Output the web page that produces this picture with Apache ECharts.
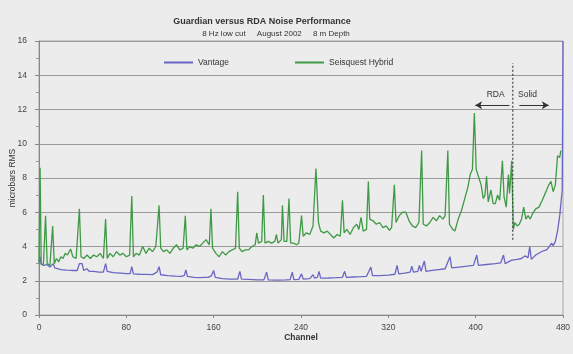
<!DOCTYPE html>
<html>
<head>
<meta charset="utf-8">
<script src="https://cdn.jsdelivr.net/npm/echarts@6/dist/echarts.min.js"></script>
<style>
html,body{margin:0;padding:0;background:#ececec;}
#chart{width:573px;height:354px;}
</style>
</head>
<body>
<div id="chart"></div>
<script>
const titleText = "Guardian versus RDA Noise Performance";
const subtitleText = "8 Hz low cut     August 2002     8 m Depth";
const seriesNames = ["Vantage", "Seisquest Hybrid"];
const xTicks = [0, 80, 160, 240, 320, 400, 480];
const yTicks = [0, 2, 4, 6, 8, 10, 12, 14, 16];

const vantageCh = [0,1,2,5,7,10,13,14.5,20,25,30,35,37,39.5,41,44,46,50,55,59,61,62.5,68,75,80,83.5,85,86.5,92,98,104,108,110,111.5,118,125,130,133,134.5,136,142,148,152,155,158,160,161.5,168,175,182,184,185.5,192,200,206,208.5,210,218,226,230,232,233.5,238,240.5,242,248,251,252.5,255,256.5,258,265,272,278,280,281.5,288,295,300,304,305.5,312,320,326,328,329.5,335,340,341.5,343,347,348.5,350,353,354.5,360,366,372,376.5,378,385,392,398,401,402.5,410,418,423,425.5,427,433,438,442,445,448,449.5,451,455,459,462,465,467.5,469.5,471,473,475,477,478.5,479.3,480];
const vantageVal = [3.0,3.4,2.95,2.9,2.95,2.8,3.0,2.75,2.65,2.62,2.6,2.6,3.0,3.0,2.6,2.7,2.55,2.55,2.5,2.5,3.0,2.55,2.48,2.45,2.42,2.42,2.82,2.4,2.38,2.37,2.36,2.5,2.82,2.35,2.3,2.27,2.25,2.3,2.63,2.25,2.2,2.18,2.2,2.2,2.3,2.6,2.2,2.12,2.1,2.1,2.55,2.1,2.08,2.05,2.05,2.5,2.05,2.04,2.05,2.06,2.5,2.06,2.08,2.4,2.1,2.12,2.35,2.15,2.2,2.55,2.15,2.16,2.18,2.2,2.55,2.2,2.22,2.24,2.26,2.8,2.3,2.3,2.33,2.38,2.9,2.4,2.45,2.5,2.85,2.5,2.55,2.9,2.55,3.15,2.55,2.6,2.65,2.7,3.4,2.75,2.8,2.85,2.9,3.5,2.9,2.95,3.0,3.05,3.5,3.0,3.2,3.25,3.3,3.45,3.35,4.0,3.25,3.5,3.65,3.75,3.8,4.0,4.2,4.05,4.3,4.9,5.8,6.8,7.3,16];

const hybridCh = [0,1,2,4,6,7.5,10,12.5,14,16,18,20,22,24,26,29,31,34,37,38.5,41,44,47,50,53,56,59,61,62.5,65,68,71,74,77,80,83,85,86.5,89,92,95,98,101,104,107,110,111.5,114,117,120,123,126,129,132,134,135.5,138,141,144,147,150,153,156,157.5,159,162,165,168,171,174,177,180,182,183.5,186,189,192,195,198,199.5,201,204,205.5,207,210,213,216,217.5,219,222,223,224.5,227,229,230.5,233,236,238,240.5,242,245,248,251,253.7,256,258,261,264,267,270,273,276,278,279.5,282,285,288,291,293,295,297,300,301.7,303,306,309,312,315,318,321,323,325.5,327,330,333,336,339,342,345,348,350.5,352,355,358,361,364,367,370,372,374.5,376,379,381,384,387,390,393,395,397,398.8,400.5,403,405,407,408.5,410,411.5,414,416,418,420,422,424.5,426,428,430,431,432,433,434.5,436,438,440,442,444,446,448,450,452,455,458,461,463,465,467,469,471,473,475,477,478];
const hybridVal = [3.1,8.6,3.0,2.9,5.8,3.0,2.9,5.2,3.0,3.3,3.1,3.4,3.3,3.6,3.5,3.85,3.4,3.3,6.2,3.4,3.3,3.5,3.3,3.5,3.4,3.6,3.3,5.6,3.3,3.6,3.4,3.7,3.5,3.6,3.4,3.5,6.95,3.4,3.6,3.5,4.0,3.6,3.9,3.7,4.0,6.4,3.9,3.7,3.8,3.6,3.9,4.1,3.8,3.9,5.8,3.8,4.0,3.9,4.1,4.0,4.2,4.4,4.1,6.2,3.9,3.6,3.4,3.7,3.5,3.7,3.8,3.9,7.2,3.9,3.7,3.8,3.8,4.0,4.1,4.8,4.2,4.3,7.0,4.2,4.3,4.2,4.3,4.7,4.2,4.4,6.4,4.3,4.3,6.8,4.2,4.2,4.1,4.2,5.8,4.6,4.8,4.7,5.2,8.55,5.4,4.9,4.8,4.9,4.7,4.5,4.7,4.6,6.7,4.8,5.0,4.7,5.1,5.3,5.0,5.7,4.9,5.0,7.8,5.6,5.5,5.3,5.4,5.1,5.2,4.95,5.1,7.6,5.4,5.8,6.0,6.0,5.5,5.2,5.1,5.4,9.6,5.3,5.2,5.4,5.7,5.5,5.8,5.6,5.8,9.6,5.3,5.0,4.9,5.6,6.1,6.8,7.5,8.2,8.5,11.8,8.5,8.0,7.6,6.8,7.0,8.1,6.6,7.3,6.5,6.5,7.0,6.7,9.0,6.9,6.3,8.2,7.1,8.0,9.0,5.0,5.4,5.2,5.3,5.6,6.3,5.6,5.8,5.6,5.9,6.2,6.3,6.7,7.0,7.3,7.6,7.8,7.2,7.6,9.3,9.2,9.6];

const dividerCh = [434, 434];
const dividerVal = [4.4, 14.7];
const arrowLeft = [[431, 12.25], [399.5, 12.25]];
const arrowRight = [[440, 12.25], [467, 12.25]];
const regionLabels = ["RDA", "Solid"];
const regionLabelPos = [[418.3, 12.88], [447.5, 12.88]];

const toPairs = (xs, ys) => xs.map((x, i) => [x, ys[i]]);
const FONT = "Liberation Sans, Arial, sans-serif";
const chart = echarts.init(document.getElementById('chart'));

chart.setOption({
  backgroundColor: '#ececec',
  animation: false,
  title: [
    { text: titleText, left: 257, top: 12, textAlign: 'center',
      textStyle: { fontFamily: FONT, fontSize: 9, fontWeight: 'bold', color: '#333' } },
    { text: subtitleText, left: 271, top: 25, textAlign: 'center',
      textStyle: { fontFamily: FONT, fontSize: 8, fontWeight: 'normal', color: '#333' } }
  ],
  legend: [
    { data: [seriesNames[0]], left: 159, top: 53, itemWidth: 29, itemHeight: 2, icon: 'rect',
      textStyle: { fontFamily: FONT, fontSize: 8.5, color: '#333' } },
    { data: [seriesNames[1]], left: 290, top: 53, itemWidth: 29, itemHeight: 2, icon: 'rect',
      textStyle: { fontFamily: FONT, fontSize: 8.5, color: '#333' } }
  ],
  grid: { left: 39, right: 10, top: 41, bottom: 39, outerBoundsMode: 'none', containLabel: false,
          show: true, borderColor: '#a8a8a8', borderWidth: 1, backgroundColor: 'transparent' },
  xAxis: {
    type: 'value', min: xTicks[0], max: xTicks[xTicks.length - 1], interval: 80,
    name: 'Channel', nameLocation: 'middle', nameGap: 18, nameMoveOverlap: false,
    nameTextStyle: { fontFamily: FONT, fontSize: 8.5, fontWeight: 'bold', color: '#333' },
    axisLine: { lineStyle: { color: '#888' } },
    axisTick: { show: true, length: 3, lineStyle: { color: '#888' } },
    axisLabel: { fontFamily: FONT, fontSize: 8.5, color: '#444', margin: 8 },
    splitLine: { show: false }
  },
  yAxis: {
    type: 'value', min: yTicks[0], max: yTicks[yTicks.length - 1], interval: 2,
    name: 'microbars RMS', nameLocation: 'middle', nameGap: 22, nameRotate: 90, nameMoveOverlap: false,
    nameTextStyle: { fontFamily: FONT, fontSize: 8.5, color: '#333' },
    axisLine: { show: true, lineStyle: { color: '#888' } },
    axisTick: { show: true, length: 4, lineStyle: { color: '#888' } },
    minorTick: { show: true, splitNumber: 2, length: 3, lineStyle: { color: '#999' } },
    axisLabel: { fontFamily: FONT, fontSize: 8.5, color: '#444', margin: 12 },
    splitLine: { show: true, lineStyle: { color: '#9a9a9a', width: 1 } }
  },
  series: [
    { name: seriesNames[0], type: 'line', data: toPairs(vantageCh, vantageVal),
      symbol: 'none', color: '#6a66c4', lineStyle: { width: 1.3, color: '#6a66c4' }, clip: false, z: 3 },
    { name: seriesNames[1], type: 'line', data: toPairs(hybridCh, hybridVal),
      symbol: 'none', color: '#3f9a45', lineStyle: { width: 1.3, color: '#3f9a45' }, z: 4 },
    { name: 'divider', type: 'line', data: toPairs(dividerCh, dividerVal),
      symbol: 'none', lineStyle: { width: 1.2, color: '#444', type: [2, 2] }, z: 5,
      markLine: {
        silent: true, symbol: ['none', 'arrow'], symbolSize: [6, 7],
        lineStyle: { color: '#333', width: 1, type: 'solid' }, label: { show: false },
        data: [
          [{ coord: arrowLeft[0] }, { coord: arrowLeft[1] }],
          [{ coord: arrowRight[0] }, { coord: arrowRight[1] }]
        ]
      },
      markPoint: {
        silent: true, symbol: 'circle', symbolSize: 0,
        label: { show: true, position: 'inside', fontFamily: FONT, fontSize: 8.5, color: '#333', formatter: p => p.name },
        data: regionLabels.map((t, i) => ({ name: t, coord: regionLabelPos[i] }))
      }
    }
  ]
});
</script>
</body>
</html>
